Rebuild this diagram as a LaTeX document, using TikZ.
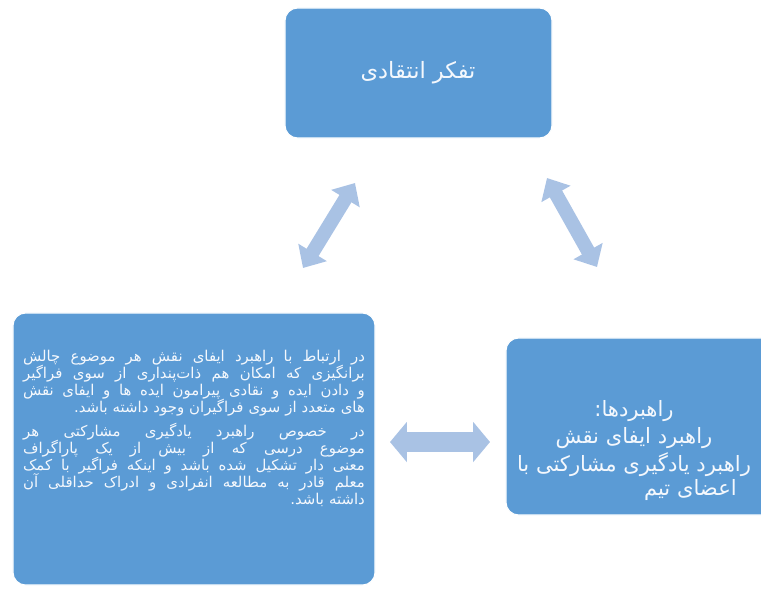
\documentclass[tikz,border=0pt]{standalone}
\usepackage{fontspec}
\usetikzlibrary{arrows.meta,positioning}
\newfontfamily\farsifont[Script=Arabic]{DejaVu Sans}
\TeXXeTstate=1
\definecolor{boxblue}{RGB}{91,155,213}
\definecolor{arrowblue}{RGB}{169,194,228}
\definecolor{boxtext}{RGB}{244,248,253}
% one right-to-left line, justified or flush right
\newcommand{\jline}[1]{\hbox to \hsize{\spaceskip=.3em plus 1fil\xspaceskip=\spaceskip\beginR #1\endR}}
\newcommand{\eline}[1]{\hbox to \hsize{\hfill\beginR #1\endR}}
\newcommand{\rl}[1]{\beginR #1\endR}

\begin{document}
\begin{tikzpicture}[
      x = 0.025cm, y = -0.025cm,
      box/.style = { fill = boxblue, draw = white, line width = 0.8pt, rounded corners = 9pt },
      boxlabel/.style = { text = boxtext, inner sep = 0, font = \farsifont },
      diagarrow/.style = { arrowblue, line width = 10pt,
          {Triangle[width = 23pt, length = 13pt]}-{Triangle[width = 23pt, length = 13pt]} },
      flatarrow/.style = { arrowblue, line width = 14pt,
          {Triangle[width = 28pt, length = 12pt]}-{Triangle[width = 28pt, length = 12pt]} }
      ]
    \useasboundingbox (0,0) rectangle (761,588);
    \clip (0,0) rectangle (761,588);

    % boxes
    \node [box, minimum width = 6.675cm, minimum height = 3.25cm] (top) at (418.5,73) {};
    \node [box, minimum width = 9.05cm, minimum height = 6.8cm] (left) at (194,449) {};
    \node [box, minimum width = 7.1cm, minimum height = 4.425cm] (right) at (648,426.5) {};

    % texts
    \node [boxlabel, font = \farsifont\fontsize{16}{19}\selectfont] (toptext) at (418,73) {\rl{تفکر انتقادی}};

    \node [boxlabel, anchor = north, text width = 243pt,
           font = \farsifont\fontsize{10.6}{12}\selectfont] (lefttext) at (194,350) {%
      \lineskiplimit=-20pt
      \jline{در ارتباط با راهبرد ایفای نقش هر موضوع چالش}
      \jline{برانگیزی که امکان هم ذات‌پنداری از سوی فراگیر}
      \jline{و دادن ایده و نقادی پیرامون ایده ها و ایفای نقش}
      \eline{های متعدد از سوی فراگیران وجود داشته باشد.}
      \vskip 5.5pt
      \jline{در خصوص راهبرد یادگیری مشارکتی هر}
      \jline{موضوع درسی که از بیش از یک پاراگراف}
      \jline{معنی دار تشکیل شده باشد و اینکه فراگیر با کمک}
      \jline{معلم قادر به مطالعه انفرادی و ادراک حداقلی آن}
      \eline{داشته باشد.}};

    \node [boxlabel, align = center, anchor = north,
           font = \farsifont\fontsize{15}{19.5}\selectfont] (righttext) at (634,400) {%
      \rl{راهبردها:}\\
      \rl{راهبرد ایفای نقش}\\
      \rl{راهبرد یادگیری مشارکتی با}};
    \node [boxlabel, anchor = north east, font = \farsifont\fontsize{15}{19.5}\selectfont]
          (righttail) at (737,479) {\rl{اعضای تیم}};

    % links
    \coordinate (tl) at (355,183);
    \coordinate (lt) at (303,268);
    \coordinate (tr) at (547,178);
    \coordinate (rt) at (597,267);
    \coordinate (lr) at (390,442);
    \coordinate (rl) at (490,442);
    \draw [diagarrow] (lt) -- (tl);
    \draw [diagarrow] (tr) -- (rt);
    \draw [flatarrow] (lr) -- (rl);
\end{tikzpicture}
\end{document}
